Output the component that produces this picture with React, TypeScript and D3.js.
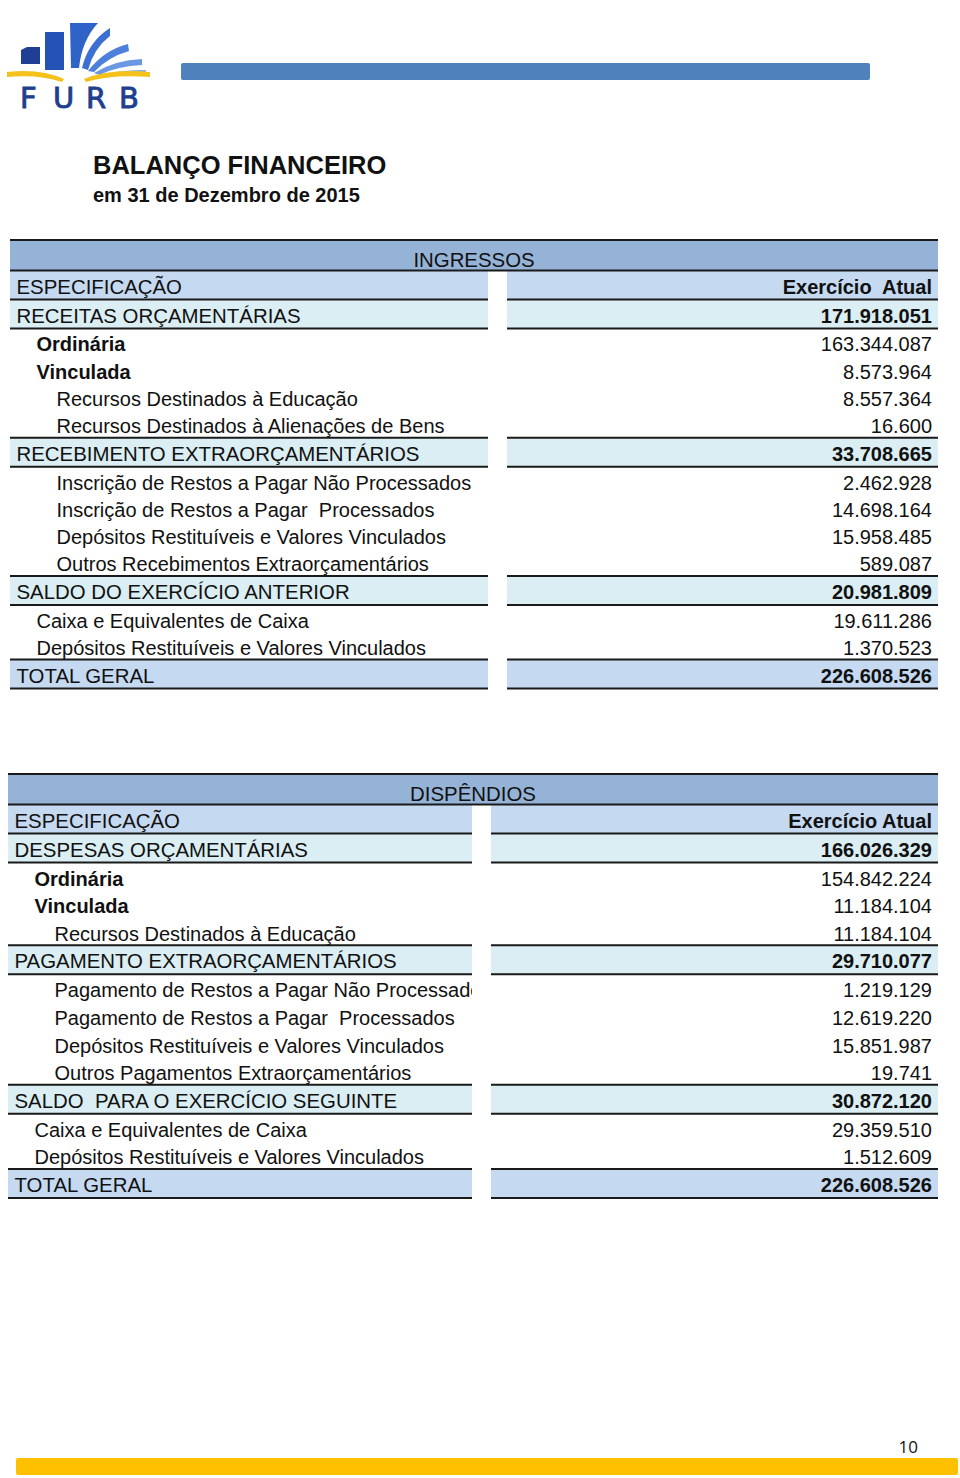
import React, { useEffect, useRef } from 'react';
import * as d3 from 'd3';

const W = 960;
const H = 1478;
const FONT = '"Liberation Sans", Arial, sans-serif';

// INGRESSOS
const ingressosLabels = [
  'RECEITAS ORÇAMENTÁRIAS',
  'Ordinária',
  'Vinculada',
  'Recursos Destinados à Educação',
  'Recursos Destinados à Alienações de Bens',
  'RECEBIMENTO EXTRAORÇAMENTÁRIOS',
  'Inscrição de Restos a Pagar Não Processados',
  'Inscrição de Restos a Pagar  Processados',
  'Depósitos Restituíveis e Valores Vinculados',
  'Outros Recebimentos Extraorçamentários',
  'SALDO DO EXERCÍCIO ANTERIOR',
  'Caixa e Equivalentes de Caixa',
  'Depósitos Restituíveis e Valores Vinculados',
  'TOTAL GERAL',
];
const ingressosLevels = [0, 1, 1, 2, 2, 0, 2, 2, 2, 2, 0, 1, 1, 0];
const ingressosKinds = ['section', 'bold', 'bold', 'plain', 'plain', 'section', 'plain', 'plain', 'plain', 'plain', 'section', 'plain', 'plain', 'total'];
const ingressosValues = [171918051, 163344087, 8573964, 8557364, 16600, 33708665, 2462928, 14698164, 15958485, 589087, 20981809, 19611286, 1370523, 226608526];

// DISPÊNDIOS
const dispendiosLabels = [
  'DESPESAS ORÇAMENTÁRIAS',
  'Ordinária',
  'Vinculada',
  'Recursos Destinados à Educação',
  'PAGAMENTO EXTRAORÇAMENTÁRIOS',
  'Pagamento de Restos a Pagar Não Processados',
  'Pagamento de Restos a Pagar  Processados',
  'Depósitos Restituíveis e Valores Vinculados',
  'Outros Pagamentos Extraorçamentários',
  'SALDO  PARA O EXERCÍCIO SEGUINTE',
  'Caixa e Equivalentes de Caixa',
  'Depósitos Restituíveis e Valores Vinculados',
  'TOTAL GERAL',
];
const dispendiosLevels = [0, 1, 1, 2, 0, 2, 2, 2, 2, 0, 1, 1, 0];
const dispendiosKinds = ['section', 'bold', 'bold', 'plain', 'section', 'plain', 'plain', 'plain', 'plain', 'section', 'plain', 'plain', 'total'];
const dispendiosValues = [166026329, 154842224, 11184104, 11184104, 29710077, 1219129, 12619220, 15851987, 19741, 30872120, 29359510, 1512609, 226608526];

const logoLetters = ['F', 'U', 'R', 'B'];

const br = d3.formatLocale({ decimal: ',', thousands: '.', grouping: [3], currency: ['R$ ', ''] });
const fmt = br.format(',d');

const colors = {
  header: '#95b3d7',
  spec: '#c5d9f1',
  section: '#dbeef3',
  line: '#1a1a1a',
};

function drawTable(svg, cfg) {
  const { id, title, colTitle, labels, levels, kinds, values, left, gapL, gapR, right, top, plainH } = cfg;
  const g = svg.append('g');
  const isPlain = (k) => k === 'plain' || k === 'bold';
  const rowH = (k) => (isPlain(k) ? plainH : 29);

  // row positions
  let y = top + 30.5;
  const rows = [{ kind: 'spec', label: 'ESPECIFICAÇÃO', level: 0, value: colTitle, y0: y, y1: y + 29 }];
  y += 29;
  labels.forEach((label, i) => {
    const h = rowH(kinds[i]);
    rows.push({ kind: kinds[i], label, level: levels[i], value: fmt(values[i]), y0: y, y1: y + h });
    y += h;
  });

  g.append('clipPath').attr('id', id)
    .append('rect').attr('x', left).attr('y', top).attr('width', gapL - left).attr('height', y - top + 10);

  // header band
  g.append('rect').attr('x', left).attr('y', top).attr('width', right - left).attr('height', 30.5).attr('fill', colors.header);

  const filled = rows.filter(r => !isPlain(r.kind));
  const fillOf = r => (r.kind === 'section' ? colors.section : colors.spec);
  g.append('g').selectAll('rect').data(filled).join('rect')
    .attr('x', left).attr('y', r => r.y0).attr('width', gapL - left).attr('height', r => r.y1 - r.y0)
    .attr('fill', fillOf);
  g.append('g').selectAll('rect').data(filled).join('rect')
    .attr('x', gapR).attr('y', r => r.y0).attr('width', right - gapR).attr('height', r => r.y1 - r.y0)
    .attr('fill', fillOf);

  // lines
  const full = [top, top + 30.5];
  g.append('g').selectAll('line').data(full).join('line')
    .attr('x1', left).attr('x2', right).attr('y1', d => d).attr('y2', d => d)
    .attr('stroke', colors.line).attr('stroke-width', 2);
  const splitYs = Array.from(new Set(filled.flatMap(r => [r.y0, r.y1]).filter(v => v !== top + 30.5)));
  [[left, gapL], [gapR, right]].forEach(([a, b]) => {
    g.append('g').selectAll('line').data(splitYs).join('line')
      .attr('x1', a).attr('x2', b).attr('y1', d => d).attr('y2', d => d)
      .attr('stroke', colors.line).attr('stroke-width', 2);
  });

  g.append('text').attr('x', (left + right) / 2).attr('y', top + 26.5)
    .attr('text-anchor', 'middle').attr('font-size', 20.4).attr('font-family', FONT)
    .attr('fill', '#111').text(title);

  const base = r => (isPlain(r.kind) ? r.y1 - 4.5 : r.y1 - 6);

  g.append('g').attr('clip-path', `url(#${id})`).selectAll('text').data(rows).join('text')
    .attr('x', r => left + 6.5 + r.level * 20)
    .attr('y', base)
    .attr('font-size', r => (isPlain(r.kind) ? 20 : 20.4)).attr('font-family', FONT)
    .attr('font-weight', r => (r.kind === 'bold' ? 'bold' : 'normal'))
    .style('white-space', 'pre')
    .attr('fill', '#111')
    .text(r => r.label);

  g.append('g').selectAll('text').data(rows).join('text')
    .attr('x', right - 6)
    .attr('y', base)
    .attr('text-anchor', 'end')
    .attr('font-size', 20).attr('font-family', FONT)
    .attr('font-weight', r => (isPlain(r.kind) ? 'normal' : 'bold'))
    .style('white-space', 'pre')
    .attr('fill', '#111')
    .text(r => r.value);
}

function drawLogo(svg) {
  const g = svg.append('g');
  g.append('path').attr('d', 'M21,50 L27,47 L40,47 L40,64 L21,64 Z').attr('fill', '#1f3f94');
  g.append('rect').attr('x', 45).attr('y', 32).attr('width', 19).attr('height', 38).attr('fill', '#2452b5');
  g.append('path').attr('d', 'M70,23 L98,23 Q82,40 79,68 L71,68 Z').attr('fill', '#2f63c8');
  const blades = [
    { d: 'M82,68 Q88,42 110,28 L110,36 Q94,48 88,70 Z', c: '#3b70d2' },
    { d: 'M88,71 Q104,50 128,44 L129,51 Q108,57 94,72 Z', c: '#4d80db' },
    { d: 'M94,73 Q115,60 142,59 L142,65 Q118,66 99,75 Z', c: '#6b97e4' },
    { d: 'M99,76 Q122,69 146,70 L146,74 Q124,74 103,78 Z', c: '#8fb0ee' },
  ];
  g.append('g').selectAll('path').data(blades).join('path').attr('d', b => b.d).attr('fill', b => b.c);
  g.append('path').attr('d', 'M7,72 Q40,68 64,79 L62,82 Q38,74 7,77 Z').attr('fill', '#f4c21b');
  g.append('path').attr('d', 'M84,79 Q110,68 150,72 L150,77 Q112,74 86,82 Z').attr('fill', '#f4c21b');
  g.append('g').selectAll('text').data(logoLetters).join('text')
    .attr('x', (d, i) => 20 + i * 33)
    .attr('y', 108)
    .attr('font-size', 29).attr('font-family', '"DejaVu Sans", sans-serif')
    .attr('fill', '#1d3f8e').attr('stroke', '#1d3f8e').attr('stroke-width', 0.9)
    .text(d => d);
}

function BalancoFinanceiro() {
  const svgRef = useRef(null);

  useEffect(() => {
    const svg = d3.select(svgRef.current);
    svg.selectAll('*').remove();
    svg.attr('width', W).attr('height', H);

    svg.append('rect').attr('width', W).attr('height', H).attr('fill', '#fff');

    drawLogo(svg);
    svg.append('rect').attr('x', 181).attr('y', 63).attr('width', 689).attr('height', 17).attr('rx', 2).attr('fill', '#4f81bd');

    svg.append('text').attr('x', 93).attr('y', 174).attr('font-size', 25.5).attr('font-weight', 'bold')
      .attr('font-family', FONT).attr('fill', '#111').text('BALANÇO FINANCEIRO');
    svg.append('text').attr('x', 93).attr('y', 202).attr('font-size', 20).attr('font-weight', 'bold')
      .attr('font-family', FONT).attr('fill', '#111').text('em 31 de Dezembro de 2015');

    drawTable(svg, {
      id: 'clipIng', title: 'INGRESSOS', colTitle: 'Exercício  Atual',
      labels: ingressosLabels, levels: ingressosLevels, kinds: ingressosKinds, values: ingressosValues,
      left: 10, gapL: 488, gapR: 507, right: 938, top: 240, plainH: 27.3,
    });
    drawTable(svg, {
      id: 'clipDis', title: 'DISPÊNDIOS', colTitle: 'Exercício Atual',
      labels: dispendiosLabels, levels: dispendiosLevels, kinds: dispendiosKinds, values: dispendiosValues,
      left: 8, gapL: 472, gapR: 491, right: 938, top: 774, plainH: 27.6,
    });

    svg.append('text').attr('x', 918).attr('y', 1453).attr('text-anchor', 'end').attr('font-size', 17)
      .attr('font-family', '"Open Sans", sans-serif').attr('fill', '#111').text('10');
    svg.append('rect').attr('x', 16).attr('y', 1458).attr('width', 942).attr('height', 17).attr('rx', 2).attr('fill', '#ffc000');
  }, []);

  return <svg ref={svgRef} style={{ position: 'absolute', left: 0, top: 0, display: 'block' }} />;
}

export default function App() {
  return <BalancoFinanceiro />;
}
